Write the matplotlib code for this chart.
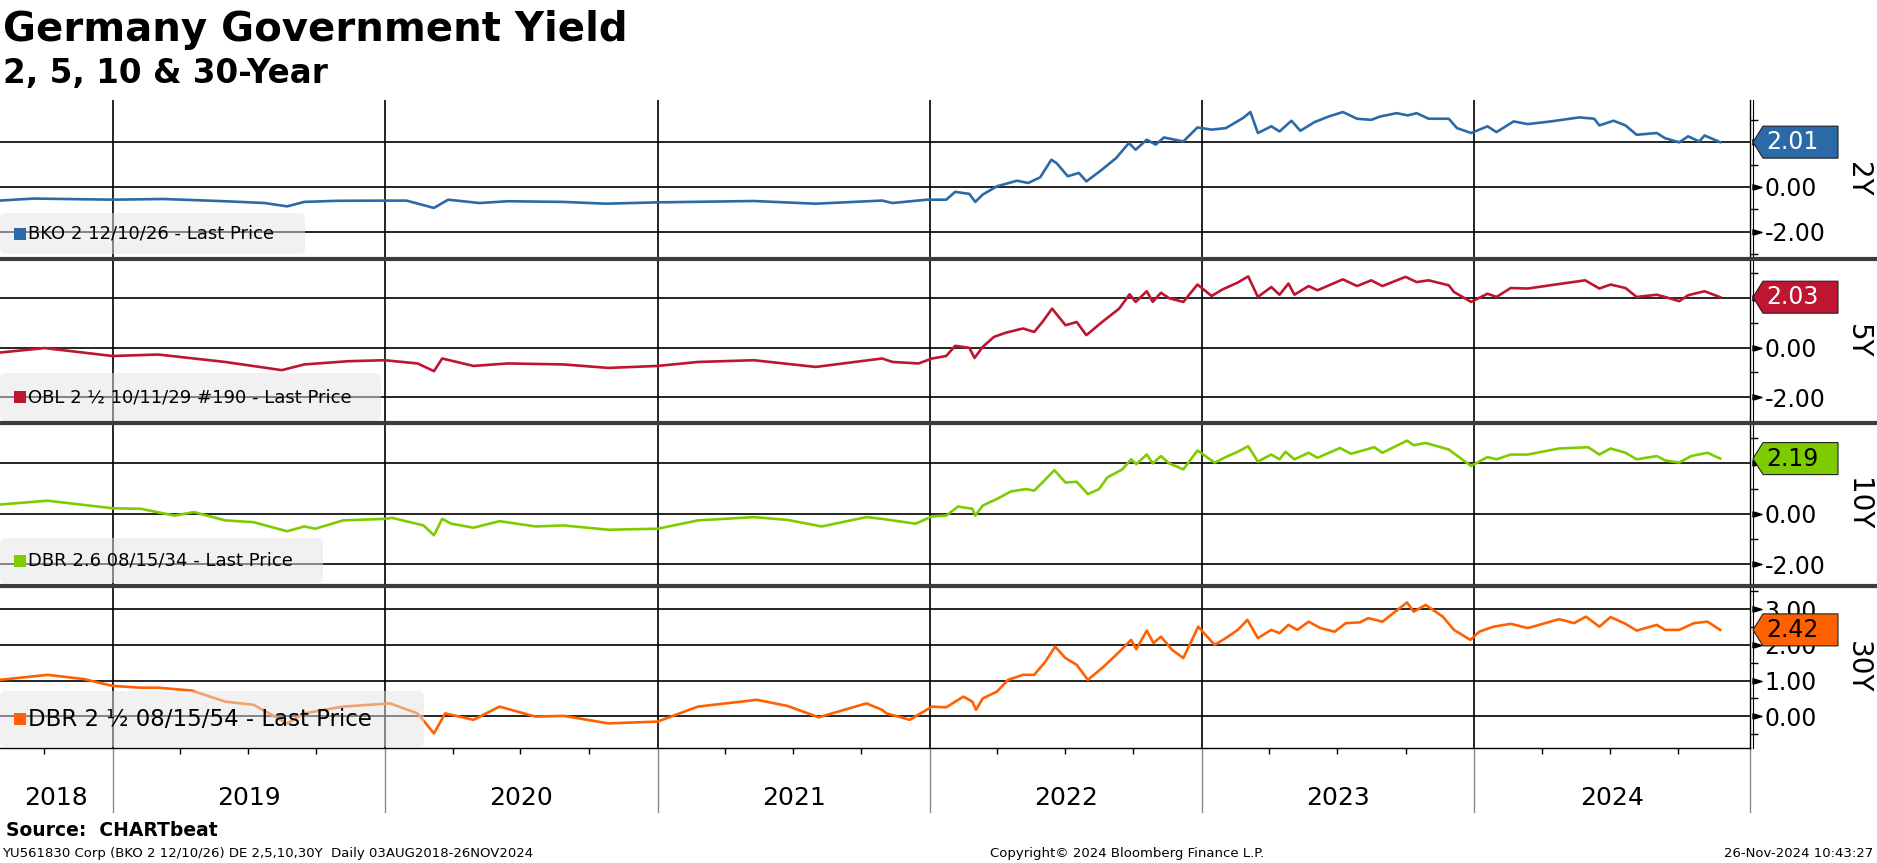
import numpy as np
import pandas as pd
import matplotlib
matplotlib.use('Agg')
import matplotlib.pyplot as plt
import matplotlib.dates as mdates
from matplotlib.patches import Polygon, FancyBboxPatch, Rectangle
from matplotlib.lines import Line2D
from matplotlib.transforms import blended_transform_factory

plt.rcParams['font.family'] = ['DejaVu Sans']
plt.rcParams['axes.unicode_minus'] = False

# ---- data ----
d2y = ['2018-08-03', '2018-09-17', '2019-01-01', '2019-03-10', '2019-06-01', '2019-07-24', '2019-08-23',
       '2019-09-15', '2019-10-30', '2020-01-30', '2020-03-07', '2020-03-26', '2020-05-07', '2020-06-14',
       '2020-08-28', '2020-10-23', '2021-01-01', '2021-05-10', '2021-08-01', '2021-10-29', '2021-11-12',
       '2021-12-28', '2022-01-23', '2022-02-04', '2022-02-23', '2022-03-03', '2022-03-13', '2022-04-01',
       '2022-04-28', '2022-05-13', '2022-05-29', '2022-06-13', '2022-06-20', '2022-07-05', '2022-07-20',
       '2022-07-30', '2022-08-20', '2022-09-08', '2022-09-25', '2022-10-04', '2022-10-19', '2022-10-31',
       '2022-11-11', '2022-12-07', '2022-12-26', '2023-01-14', '2023-02-02', '2023-02-25', '2023-03-07',
       '2023-03-17', '2023-04-04', '2023-04-15', '2023-05-01', '2023-05-13', '2023-06-01', '2023-06-20',
       '2023-07-09', '2023-07-28', '2023-08-16', '2023-08-28', '2023-09-19', '2023-10-04', '2023-10-16',
       '2023-11-01', '2023-11-28', '2023-12-09', '2023-12-28', '2024-01-19', '2024-01-31', '2024-02-23',
       '2024-03-13', '2024-04-13', '2024-05-21', '2024-06-10', '2024-06-17', '2024-07-06', '2024-07-22',
       '2024-08-06', '2024-09-02', '2024-09-13', '2024-10-02', '2024-10-14', '2024-10-29', '2024-11-05',
       '2024-11-26']
y2y = [-0.61, -0.52, -0.57, -0.54, -0.64, -0.72, -0.87,
       -0.67, -0.62, -0.61, -0.94, -0.57, -0.72, -0.64,
       -0.67, -0.75, -0.69, -0.63, -0.75, -0.61, -0.72,
       -0.57, -0.57, -0.22, -0.31, -0.67, -0.34, 0.03,
       0.28, 0.18, 0.43, 1.22, 1.07, 0.48, 0.63,
       0.25, 0.78, 1.30, 1.97, 1.67, 2.12, 1.90,
       2.22, 2.04, 2.67, 2.57, 2.64, 3.09, 3.36,
       2.42, 2.72, 2.49, 2.97, 2.52, 2.91, 3.16,
       3.36, 3.06, 3.01, 3.16, 3.31, 3.21, 3.31,
       3.06, 3.06, 2.64, 2.42, 2.72, 2.46, 2.94,
       2.82, 2.94, 3.12, 3.06, 2.76, 2.97, 2.76,
       2.34, 2.42, 2.19, 2.00, 2.27, 2.04, 2.31,
       2.01]

d5y = ['2018-08-03', '2018-10-02', '2019-01-01', '2019-03-03', '2019-06-01', '2019-08-16', '2019-09-15',
       '2019-11-13', '2020-01-01', '2020-02-14', '2020-03-07', '2020-03-18', '2020-04-29', '2020-06-14',
       '2020-08-28', '2020-10-27', '2021-01-01', '2021-02-24', '2021-05-10', '2021-08-01', '2021-10-29',
       '2021-11-12', '2021-12-17', '2022-01-04', '2022-01-23', '2022-02-04', '2022-02-23', '2022-03-02',
       '2022-03-13', '2022-03-28', '2022-04-13', '2022-05-06', '2022-05-21', '2022-06-01', '2022-06-14',
       '2022-07-02', '2022-07-17', '2022-07-30', '2022-08-20', '2022-09-12', '2022-09-26', '2022-10-04',
       '2022-10-19', '2022-10-27', '2022-11-07', '2022-11-18', '2022-12-07', '2022-12-26', '2023-01-14',
       '2023-01-29', '2023-02-18', '2023-03-04', '2023-03-17', '2023-04-04', '2023-04-15', '2023-04-27',
       '2023-05-05', '2023-05-24', '2023-06-05', '2023-07-09', '2023-07-28', '2023-08-16', '2023-08-31',
       '2023-10-01', '2023-10-16', '2023-11-01', '2023-11-28', '2023-12-05', '2023-12-28', '2024-01-19',
       '2024-01-31', '2024-02-19', '2024-03-13', '2024-04-28', '2024-05-29', '2024-06-17', '2024-07-02',
       '2024-07-22', '2024-08-06', '2024-09-02', '2024-09-13', '2024-10-02', '2024-10-14', '2024-11-05',
       '2024-11-26']
y5y = [-0.20, -0.02, -0.34, -0.28, -0.58, -0.91, -0.68,
       -0.55, -0.51, -0.64, -0.95, -0.44, -0.74, -0.64,
       -0.68, -0.82, -0.74, -0.58, -0.51, -0.78, -0.44,
       -0.58, -0.64, -0.44, -0.34, 0.07, -0.01, -0.42,
       0.03, 0.43, 0.60, 0.77, 0.63, 1.03, 1.57,
       0.90, 1.03, 0.50, 1.03, 1.57, 2.15, 1.84,
       2.27, 1.84, 2.21, 1.99, 1.84, 2.54, 2.08,
       2.35, 2.62, 2.87, 2.04, 2.44, 2.13, 2.58,
       2.13, 2.48, 2.31, 2.75, 2.48, 2.71, 2.48,
       2.85, 2.64, 2.71, 2.51, 2.24, 1.84, 2.17,
       2.04, 2.40, 2.38, 2.58, 2.71, 2.38, 2.54,
       2.40, 2.04, 2.13, 2.04, 1.87, 2.11, 2.27,
       2.03]

d10y = ['2018-08-03', '2018-10-06', '2019-01-01', '2019-02-08', '2019-03-25', '2019-04-20', '2019-06-01',
        '2019-07-09', '2019-08-23', '2019-09-15', '2019-09-30', '2019-11-06', '2020-01-01', '2020-01-11',
        '2020-02-22', '2020-03-07', '2020-03-18', '2020-03-30', '2020-04-29', '2020-06-03', '2020-07-21',
        '2020-08-28', '2020-10-27', '2021-01-01', '2021-02-24', '2021-05-10', '2021-06-24', '2021-08-09',
        '2021-10-08', '2021-10-29', '2021-11-12', '2021-12-13', '2022-01-04', '2022-01-23', '2022-02-08',
        '2022-02-27', '2022-03-03', '2022-03-13', '2022-04-01', '2022-04-20', '2022-05-10', '2022-05-21',
        '2022-06-01', '2022-06-17', '2022-07-02', '2022-07-17', '2022-08-01', '2022-08-16', '2022-08-27',
        '2022-09-16', '2022-09-28', '2022-10-05', '2022-10-19', '2022-10-27', '2022-11-07', '2022-11-18',
        '2022-12-07', '2022-12-26', '2023-01-18', '2023-02-02', '2023-02-18', '2023-03-04', '2023-03-17',
        '2023-04-04', '2023-04-15', '2023-04-23', '2023-05-05', '2023-05-24', '2023-06-05', '2023-07-05',
        '2023-07-20', '2023-08-20', '2023-08-31', '2023-10-03', '2023-10-12', '2023-10-28', '2023-11-28',
        '2023-12-13', '2023-12-28', '2024-01-19', '2024-01-31', '2024-02-19', '2024-03-13', '2024-04-24',
        '2024-06-02', '2024-06-17', '2024-07-02', '2024-07-22', '2024-08-06', '2024-09-02', '2024-09-13',
        '2024-10-02', '2024-10-18', '2024-11-09', '2024-11-26']
y10y = [0.37, 0.52, 0.22, 0.20, -0.07, 0.07, -0.26,
        -0.33, -0.69, -0.50, -0.59, -0.26, -0.20, -0.16,
        -0.46, -0.85, -0.20, -0.39, -0.55, -0.29, -0.50,
        -0.46, -0.63, -0.59, -0.26, -0.13, -0.24, -0.50,
        -0.13, -0.20, -0.26, -0.39, -0.10, -0.07, 0.29,
        0.20, -0.07, 0.33, 0.59, 0.89, 0.98, 0.92,
        1.24, 1.73, 1.24, 1.27, 0.78, 0.98, 1.44,
        1.76, 2.16, 1.97, 2.35, 2.00, 2.29, 2.00,
        1.76, 2.51, 2.03, 2.25, 2.46, 2.68, 2.07,
        2.35, 2.16, 2.46, 2.16, 2.42, 2.22, 2.61,
        2.38, 2.64, 2.42, 2.90, 2.72, 2.81, 2.55,
        2.22, 1.90, 2.25, 2.16, 2.35, 2.35, 2.59,
        2.64, 2.35, 2.59, 2.42, 2.16, 2.29, 2.12,
        2.03, 2.29, 2.42, 2.19]

d30y = ['2018-08-03', '2018-10-06', '2018-11-24', '2019-01-01', '2019-02-08', '2019-03-03', '2019-04-17',
        '2019-06-01', '2019-07-09', '2019-08-23', '2019-09-15', '2019-11-06', '2020-01-08', '2020-02-14',
        '2020-03-07', '2020-03-22', '2020-04-29', '2020-06-03', '2020-07-21', '2020-08-28', '2020-10-27',
        '2021-01-01', '2021-02-24', '2021-05-14', '2021-06-24', '2021-08-05', '2021-10-08', '2021-10-29',
        '2021-11-04', '2021-12-05', '2022-01-04', '2022-01-23', '2022-02-15', '2022-02-27', '2022-03-04',
        '2022-03-13', '2022-04-01', '2022-04-16', '2022-05-06', '2022-05-21', '2022-06-05', '2022-06-18',
        '2022-07-02', '2022-07-17', '2022-08-01', '2022-08-20', '2022-09-08', '2022-09-28', '2022-10-05',
        '2022-10-19', '2022-10-28', '2022-11-07', '2022-11-22', '2022-12-07', '2022-12-27', '2023-01-18',
        '2023-02-02', '2023-02-18', '2023-03-03', '2023-03-17', '2023-04-04', '2023-04-15', '2023-04-27',
        '2023-05-09', '2023-05-24', '2023-06-09', '2023-06-28', '2023-07-13', '2023-08-01', '2023-08-12',
        '2023-08-31', '2023-10-03', '2023-10-12', '2023-10-28', '2023-11-20', '2023-12-05', '2023-12-27',
        '2024-01-08', '2024-01-27', '2024-02-19', '2024-03-13', '2024-04-24', '2024-05-14', '2024-05-30',
        '2024-06-17', '2024-07-02', '2024-07-22', '2024-08-06', '2024-09-02', '2024-09-13', '2024-10-02',
        '2024-10-22', '2024-11-09', '2024-11-26']
y30y = [1.02, 1.16, 1.04, 0.85, 0.80, 0.80, 0.72,
        0.41, 0.32, -0.20, 0.08, 0.27, 0.36, 0.08,
        -0.48, 0.08, -0.10, 0.27, -0.01, 0.01, -0.20,
        -0.15, 0.27, 0.46, 0.29, -0.03, 0.36, 0.18,
        0.08, -0.10, 0.27, 0.25, 0.55, 0.41, 0.18,
        0.50, 0.69, 1.02, 1.16, 1.16, 1.53, 1.95,
        1.63, 1.44, 1.02, 1.35, 1.72, 2.14, 1.88,
        2.40, 2.05, 2.23, 1.86, 1.63, 2.51, 2.00,
        2.19, 2.42, 2.70, 2.19, 2.42, 2.33, 2.56,
        2.42, 2.65, 2.47, 2.37, 2.61, 2.63, 2.75,
        2.65, 3.19, 2.93, 3.12, 2.79, 2.42, 2.14,
        2.37, 2.51, 2.59, 2.47, 2.72, 2.61, 2.79,
        2.51, 2.78, 2.59, 2.40, 2.56, 2.42, 2.42,
        2.61, 2.65, 2.42]

names = ['2Y', '5Y', '10Y', '30Y']
legend_texts = ['BKO 2 12/10/26 - Last Price', 'OBL 2 \u00bd 10/11/29 #190 - Last Price',
                'DBR 2.6 08/15/34 - Last Price', 'DBR 2 \u00bd 08/15/54 - Last Price']
colors = ['#2c6aa7', '#be1530', '#7ecc00', '#ff6000']
tag_text_colors = ['white', 'white', 'black', 'black']
years = ['2018', '2019', '2020', '2021', '2022', '2023', '2024']

# ---- layout (pixels, origin top-left) ----
W, H = 1877, 863
fig = plt.figure(figsize=(W / 100, H / 100), dpi=100)
fig.patch.set_facecolor('white')


def fx(x):
    return x / W


def fy(y):
    return 1 - y / H


X_RIGHT = 1750
panels = [(100, 259), (259, 423), (423, 586), (586, 748)]
ylims = [(-3.23, 3.90), (-3.04, 3.57), (-2.86, 3.60), (-0.89, 3.65)]
majors = [[-2, 0, 2], [-2, 0, 2], [-2, 0, 2], [0, 1, 2, 3]]
# the 2.00 label sits fully under the value tag in the top three panels
major_labels = [['-2.00', '0.00', ''], ['-2.00', '0.00', ''], ['-2.00', '0.00', ''],
                ['0.00', '1.00', '2.00', '3.00']]
minors = [[-3, -1, 1, 3], [-3, -1, 1, 3], [-1, 1, 3], [-0.5, 0.5, 1.5, 2.5, 3.5]]
legend_boxes = [(305, 213, 254, 13), (381, 373, 421, 13), (323, 538, 583, 13), (424, 691, 747, 16.5)]

xstart = pd.Timestamp('2018-08-03')
xend = pd.Timestamp('2025-01-05')
year_starts = [pd.Timestamp(f'{y}-01-01') for y in range(2019, 2025)]

series = [(d2y, y2y), (d5y, y5y), (d10y, y10y), (d30y, y30y)]
tri = [(-1, -0.6), (1, 0), (-1, 0.6), (-1, -0.6)]

axes = []
for i, ((top, bot), (dts, vals)) in enumerate(zip(panels, series)):
    ax = fig.add_axes([0, fy(bot), fx(X_RIGHT), (bot - top) / H])
    axes.append(ax)
    ax.set_axisbelow(True)
    ax.plot(pd.to_datetime(dts), vals, color=colors[i], lw=1.9, zorder=3, solid_joinstyle='round')
    ax.set_xlim(xstart, xend)
    ax.set_ylim(*ylims[i])
    for s in ['left', 'top', 'bottom']:
        ax.spines[s].set_visible(False)
    ax.spines['right'].set_linewidth(1.0)
    if i == 3:
        ax.spines['bottom'].set_visible(True)
        ax.spines['bottom'].set_linewidth(1.0)

    ax.yaxis.set_ticks_position('right')
    ax.set_yticks(majors[i])
    ax.set_yticklabels(major_labels[i])
    ax.set_yticks(minors[i], minor=True)
    ax.tick_params(axis='y', which='major', length=0, pad=10.5, labelsize=17)
    ax.tick_params(axis='y', which='minor', length=6, width=1, direction='out', color='black')
    ax.set_xticks(year_starts)
    ax.tick_params(axis='x', which='major', length=0, labelbottom=False)
    if i == 3:
        ax.xaxis.set_minor_locator(mdates.MonthLocator(bymonth=[4, 7, 10]))
        ax.tick_params(axis='x', which='minor', length=4, width=1, direction='out')
    ax.grid(which='major', color='black', lw=1.2)

    # triangles at major y ticks
    bt = blended_transform_factory(ax.transAxes, ax.transData)
    ax.plot([1756.5 / X_RIGHT] * len(majors[i]), majors[i], ls='none', marker=tri, ms=6.5,
            color='black', transform=bt, clip_on=False, zorder=4)

    # legend box
    bw, btop, bbot, fs = legend_boxes[i]
    box = FancyBboxPatch((fx(0), fy(bbot)), fx(bw), (bbot - btop) / H,
                         boxstyle='round,pad=0,rounding_size=0.003', mutation_aspect=W / H,
                         transform=fig.transFigure, fc=(228 / 255, 228 / 255, 228 / 255), alpha=0.5,
                         ec='none', zorder=5)
    fig.patches.append(box)
    yc = (btop + bbot) / 2
    sq = 12
    fig.patches.append(Rectangle((fx(14), fy(yc + sq / 2)), fx(sq), sq / H, transform=fig.transFigure,
                                 fc=colors[i], ec='none', zorder=6))
    fig.text(fx(28), fy(yc), legend_texts[i], fontsize=fs, va='center', ha='left', zorder=6)

    # value tag
    last = vals[-1]
    ypix = H - ax.transData.transform((mdates.date2num(xstart), last))[1]
    poly = [(1753, ypix), (1763, ypix - 16), (1838, ypix - 16), (1838, ypix + 16), (1763, ypix + 16)]
    fig.patches.append(Polygon([(fx(a), fy(b)) for a, b in poly], closed=True, transform=fig.transFigure,
                               fc=colors[i], ec='#222222', lw=0.8, zorder=7))
    fig.text(fx(1766), fy(ypix), '%.2f' % last, fontsize=17, color=tag_text_colors[i],
             va='center', ha='left', zorder=8)

    # panel name
    fig.text(fx(1858), fy((top + bot) / 2), names[i], fontsize=20, rotation=270,
             va='center', ha='center')

# double right line
fig.lines.append(Line2D([fx(1753), fx(1753)], [fy(100), fy(748)], transform=fig.transFigure,
                        color='black', lw=0.8, zorder=4))

# separators between panels
for yy in [259, 423, 586]:
    fig.lines.append(Line2D([0, 1], [fy(yy), fy(yy)], transform=fig.transFigure,
                            color='#3c3c3c', lw=3.0, zorder=9))

# year separators and labels below the last panel
ax4 = axes[3]
bt4 = blended_transform_factory(ax4.transData, fig.transFigure)
for d in year_starts + [xend]:
    ax4.plot([d, d], [fy(748), fy(812)], color='#8a8a8a', lw=1.0, transform=bt4, clip_on=False)
bounds = [xstart] + year_starts + [xend]
for k, lab in enumerate(years):
    mid = bounds[k] + (bounds[k + 1] - bounds[k]) / 2
    ax4.text(mid, fy(805), lab, transform=bt4, fontsize=18, ha='center', va='baseline', clip_on=False)

# titles
fig.text(fx(3), fy(40.5), 'Germany Government Yield', fontsize=29, fontweight='bold', va='baseline')
fig.text(fx(3), fy(83), '2, 5, 10 & 30-Year', fontsize=23.5, fontweight='bold', va='baseline')

# footer
fig.text(fx(6), fy(836), 'Source:  CHARTbeat', fontsize=13.5, fontweight='bold', va='baseline')
fig.text(fx(2), fy(857), 'YU561830 Corp (BKO 2 12/10/26) DE 2,5,10,30Y  Daily 03AUG2018-26NOV2024',
         fontsize=9.5, va='baseline')
fig.text(fx(990), fy(857), 'Copyright\u00a9 2024 Bloomberg Finance L.P.', fontsize=9.5, va='baseline')
fig.text(fx(1873), fy(857), '26-Nov-2024 10:43:27', fontsize=9.5, va='baseline', ha='right')

fig.savefig('out.png', dpi=100)
